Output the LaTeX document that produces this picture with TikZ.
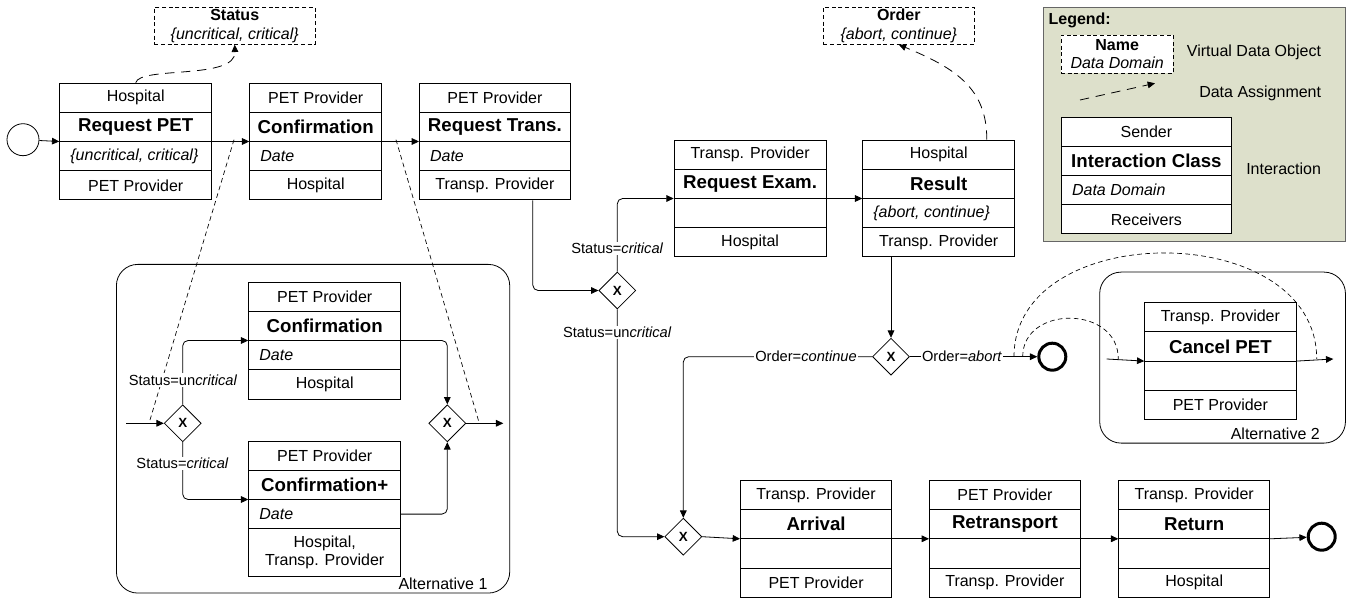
\documentclass[tikz,border=0pt]{standalone}
\usepackage{fontspec}
\setmainfont{Liberation Sans}
\usetikzlibrary{shapes.multipart,shapes.geometric,arrows.meta,calc}
\definecolor{legendbg}{RGB}{221,224,203}
\newlength\boxw
\setlength\boxw{114pt}
\tikzset{boxw/.code={\setlength\boxw{#1}}}
\newcommand{\srow}[2][21.3pt]{\parbox[c][#1][c]{\boxw}{\centering\fontsize{12}{13.5}\selectfont #2}}
\newcommand{\trow}[1]{\parbox[c][21.3pt][c]{\boxw}{\centering\fontsize{14}{16}\selectfont\bfseries #1}}
\newcommand{\drow}[1]{\parbox[c][21.3pt][c]{\boxw}{\hspace*{8pt}\fontsize{12}{13.5}\selectfont\itshape #1}}

\begin{document}
\begin{tikzpicture}[x=0.75pt,y=-0.75pt]
\tikzstyle{every node}+=[inner sep=0pt, font=\fontsize{12}{13.5}\selectfont]
\tikzstyle{interaction}=[rectangle split, rectangle split parts=4, draw, fill=white, anchor=north west, line width=0.6pt]
\tikzstyle{gateway}=[diamond, draw, fill=white, minimum width=27.75pt, minimum height=27.75pt, line width=0.6pt, font=\fontsize{10}{12}\selectfont\bfseries]
\tikzstyle{flow}=[-{Triangle[length=5.5pt,width=5pt]}, rounded corners=4pt, line width=0.6pt]
\tikzstyle{assign}=[-{Triangle[length=5.5pt,width=5pt]}, dash pattern=on 7pt off 5pt, line width=0.6pt]
\tikzstyle{link}=[dash pattern=on 3.5pt off 2.5pt, line width=0.5pt]
\tikzstyle{dataobj}=[draw, dash pattern=on 3pt off 2pt, line width=0.6pt, align=center, font=\fontsize{12}{14}\selectfont]
\tikzstyle{cond}=[fill=white, inner xsep=1pt, inner ysep=1pt, font=\fontsize{11}{13}\selectfont]
\tikzstyle{group}=[draw, rounded corners=16pt, anchor=north west, line width=0.6pt]
\tikzstyle{event}=[circle, draw, line width=0.6pt, minimum size=24pt]
\tikzstyle{endevent}=[circle, draw, line width=2.25pt, minimum size=20.25pt]
\useasboundingbox (0,0) rectangle (1356,598);
\node[draw=black!60, fill=legendbg, anchor=north west, minimum width=226.7pt, minimum height=175pt] (legend) at (1042.7,7.3) {};
\node[anchor=west, font=\fontsize{12}{14}\selectfont\bfseries] (legtitle) at (1048.3,20) {Legend:};
\node[dataobj, fill=white, minimum width=84.2pt, minimum height=28.7pt] (legdata) at (1117.2,54.2) {\textbf{Name}\\\textit{Data Domain}};
\node[anchor=west] (legdatatxt) at (1186.7,52.3) {Virtual Data Object};
\coordinate (lga) at (1080,100);
\coordinate (lgb) at (1155,83.3);
\draw[assign] (lga) -- (lgb);
\node[anchor=west] (legassigntxt) at (1199,93.3) {Data Assignment};
\node[interaction, boxw=127.5pt] (legint) at (1061,116.7) {\srow{Sender}\nodepart{two}\trow{Interaction Class}\nodepart{three}\drow{Data Domain}\nodepart{four}\srow{Receivers}};
\node[anchor=west] (leginttxt) at (1246,168.3) {Interaction};
\node[group, minimum width=295pt, minimum height=246.5pt] (alt1) at (116,264) {};
\node[anchor=east] (alt1lbl) at (487.7,583.3) {Alternative 1};
\node[group, minimum width=184.3pt, minimum height=128.25pt] (alt2) at (1099.3,271.7) {};
\node[anchor=east] (alt2lbl) at (1320,433.3) {Alternative 2};
\node[dataobj, minimum width=120.5pt, minimum height=27.75pt] (status) at (234.7,25.8) {\textbf{Status}\\\textit{\{uncritical, critical\}}};
\node[dataobj, minimum width=113.25pt, minimum height=27.75pt] (order) at (898.8,25.8) {\textbf{Order}\\\textit{\{abort, continue\}}};
\node[event] (start) at (23,139.7) {};
\node[interaction] (reqpet) at (59.3,82.7) {\srow{Hospital}\nodepart{two}\trow{Request PET}\nodepart{three}\drow{\{uncritical, critical\}}\nodepart{four}\srow{PET Provider}};
\node[interaction, boxw=99pt] (conf) at (249.3,82.7) {\srow{PET Provider}\nodepart{two}\trow{Confirmation}\nodepart{three}\drow{Date}\nodepart{four}\srow{Hospital}};
\node[interaction, boxw=113.25pt] (reqtrans) at (419,82.7) {\srow{PET Provider}\nodepart{two}\trow{Request Trans.}\nodepart{three}\drow{Date}\nodepart{four}\srow{Transp. Provider}};
\node[interaction] (reqexam) at (673.7,139.7) {\srow{Transp. Provider}\nodepart{two}\trow{Request Exam.}\nodepart{three}\drow{}\nodepart{four}\srow{Hospital}};
\node[interaction] (result) at (862.3,139.7) {\srow{Hospital}\nodepart{two}\trow{Result}\nodepart{three}\drow{\{abort, continue\}}\nodepart{four}\srow{Transp. Provider}};
\node[interaction] (confi) at (248.3,281.7) {\srow{PET Provider}\nodepart{two}\trow{Confirmation}\nodepart{three}\drow{Date}\nodepart{four}\srow{Hospital}};
\node[interaction] (confp) at (248.3,440.7) {\srow{PET Provider}\nodepart{two}\trow{Confirmation+}\nodepart{three}\drow{Date}\nodepart{four}\srow[35pt]{Hospital,\\Transp. Provider}};
\node[interaction, boxw=113.5pt] (cancel) at (1144.3,302.3) {\srow{Transp. Provider}\nodepart{two}\trow{Cancel PET}\nodepart{three}\drow{}\nodepart{four}\srow{PET Provider}};
\node[interaction, boxw=113.5pt] (arrival) at (740,480) {\srow{Transp. Provider}\nodepart{two}\trow{Arrival}\nodepart{three}\drow{}\nodepart{four}\srow{PET Provider}};
\node[interaction, boxw=113.25pt] (retrans) at (929,480) {\srow{PET Provider}\nodepart{two}\trow{Retransport}\nodepart{three}\drow{}\nodepart{four}\srow{Transp. Provider}};
\node[interaction, boxw=113.25pt] (return) at (1118.3,480) {\srow{Transp. Provider}\nodepart{two}\trow{Return}\nodepart{three}\drow{}\nodepart{four}\srow{Hospital}};
\node[gateway] (gwa) at (182.7,423.3) {X};
\node[gateway] (gwb) at (447.3,423.3) {X};
\node[gateway] (gw1) at (617.3,290.5) {X};
\node[gateway] (gw2) at (891,356.7) {X};
\node[gateway] (gw3) at (683.3,536.7) {X};
\node[endevent] (endA) at (1052.3,356.7) {};
\node[endevent] (endB) at (1321.7,536.7) {};
\draw[flow] (start) -- (reqpet.two split west);
\draw[flow] (reqpet.two split east) -- (conf.two split west);
\draw[flow] (conf.two split east) -- (reqtrans.two split west);
\draw[flow] ($(reqtrans.south east)+(-38,0)$) |- (gw1.west);
\draw[flow] (gw1.north) |- (reqexam.two split west);
\draw[flow] (gw1.south) |- (gw3.west);
\draw[flow] (reqexam.two split east) -- (result.two split west);
\draw[flow] (gw2 |- result.south) -- (gw2.north);
\draw[flow] (gw2.west) -| (gw3.north);
\draw[flow] (gw2.east) -- (endA);
\draw[flow] (gw3.east) -- (arrival.two split west);
\draw[flow] (arrival.two split east) -- (retrans.two split west);
\draw[flow] (retrans.two split east) -- (return.two split west);
\draw[flow] (return.two split east) -- (endB);
\coordinate (in1) at (126,423.3);
\coordinate (out1) at (503.3,423.3);
\draw[flow] (in1) -- (gwa.west);
\draw[flow] (gwa.north) |- (confi.two split west);
\draw[flow] (gwa.south) |- (confp.two split west);
\draw[flow] (confi.two split east) -| (gwb.north);
\draw[flow] ($(confp.two split east)!0.5!(confp.three split east)$) -| (gwb.south);
\draw[flow] (gwb.east) -- (out1);
\coordinate (in2) at (1106.7,359);
\coordinate (out2) at (1333.3,359);
\draw[flow] (in2) -- (cancel.two split west);
\draw[flow] (cancel.two split east) -- (out2);
\draw[assign] (reqpet.north) .. controls (140,66) and (236,80) .. (status.south);
\draw[assign] ($(result.north east)+(-28.3,0)$) .. controls (987,88) and (955,68) .. (order.south);
\coordinate (l1a) at (234,139.7);
\coordinate (l1b) at (149,423.3);
\coordinate (l2a) at (396,139.7);
\coordinate (l2b) at (479.3,423.3);
\draw[link] (l1a) -- (l1b);
\draw[link] (l2a) -- (l2b);
\coordinate (l3a) at (1014,356.7);
\coordinate (l3b) at (1316.7,359);
\coordinate (l4a) at (1022.7,356.7);
\coordinate (l4b) at (1118.3,359);
\draw[link] (l3a) .. controls (1014,218) and (1316.7,218) .. (l3b);
\draw[link] (l4a) .. controls (1022.7,305) and (1118.3,305) .. (l4b);
\node[cond] (c1) at (617.3,248.3) {Status=\textit{critical}};
\node[cond] (c2) at (617.3,332.3) {Status=un\textit{critical}};
\node[cond] (c3) at (183,380) {Status=un\textit{critical}};
\node[cond] (c4) at (182.5,463.3) {Status=\textit{critical}};
\node[cond] (c5) at (806,356.7) {Order=\textit{continue}};
\node[cond] (c6) at (962,356.7) {Order=\textit{abort}};
\end{tikzpicture}
\end{document}
